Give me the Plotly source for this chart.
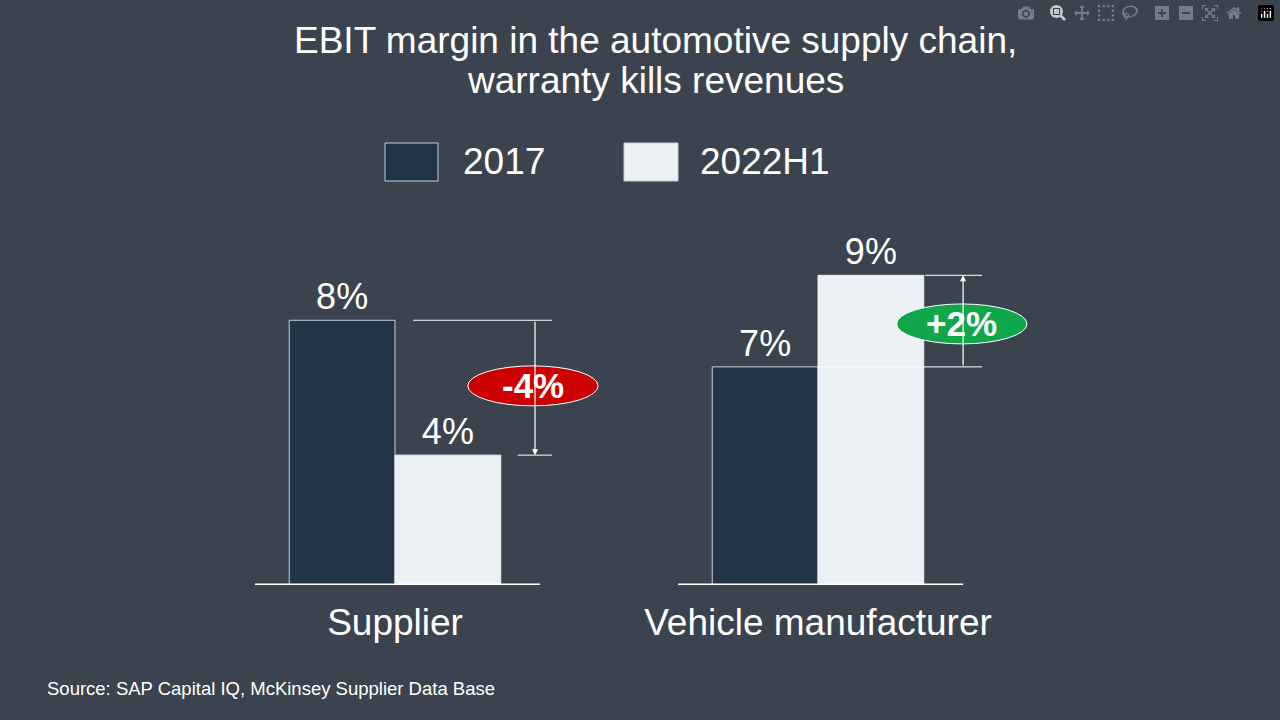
import plotly.graph_objects as go

# data
categories = ["Supplier", "Vehicle manufacturer"]
series_names = ["2017", "2022H1"]
margin_2017 = [7.95, 6.55]
margin_2022 = [3.9, 9.3]
labels_2017 = ["8%", "7%"]
labels_2022 = ["4%", "9%"]
changes = ["-4%", "+2%"]

dark = "#243447"
light = "#ebf1f4"
white = "#ffffff"
font = "Liberation Sans, Arial, sans-serif"

fig = go.Figure()
fig.add_trace(go.Bar(x=categories, y=margin_2017, name=series_names[0],
                     marker=dict(color=dark, line=dict(color="#c8d0d8", width=1)),
                     text=labels_2017, textposition="outside",
                     textfont=dict(size=36, color=white), cliponaxis=False))
fig.add_trace(go.Bar(x=categories, y=margin_2022, name=series_names[1],
                     marker=dict(color=light, line=dict(color=light, width=1)),
                     text=labels_2022, textposition="outside",
                     textfont=dict(size=36, color=white), cliponaxis=False))

shapes = []
annotations = []

# baselines under each group
for i in range(2):
    shapes.append(dict(type="line", xref="x", yref="y", x0=i - 0.331, x1=i + 0.343,
                       y0=0, y1=0, line=dict(color=white, width=3)))

# supplier: change indicator
s_top, s_bot = margin_2017[0], margin_2022[0]
shapes.append(dict(type="line", xref="x", yref="y", x0=0.043, x1=0.371, y0=s_top, y1=s_top,
                   line=dict(color=white, width=1)))
shapes.append(dict(type="line", xref="x", yref="y", x0=0.29, x1=0.371, y0=s_bot, y1=s_bot,
                   line=dict(color=white, width=1)))
annotations.append(dict(xref="x", yref="y", axref="x", ayref="y", x=0.331, y=s_bot,
                        ax=0.331, ay=s_top, text="", showarrow=True, arrowhead=2,
                        arrowsize=1, arrowwidth=1.2, arrowcolor=white))
# vehicle manufacturer: change indicator
v_bot, v_top = margin_2017[1], margin_2022[1]
shapes.append(dict(type="line", xref="x", yref="y", x0=1.253, x1=1.388, y0=v_top, y1=v_top,
                   line=dict(color=white, width=1)))
shapes.append(dict(type="line", xref="x", yref="y", x0=1.005, x1=1.388, y0=v_bot, y1=v_bot,
                   line=dict(color=white, width=1)))
annotations.append(dict(xref="x", yref="y", axref="x", ayref="y", x=1.343, y=v_top,
                        ax=1.343, ay=v_bot, text="", showarrow=True, arrowhead=2,
                        arrowsize=1, arrowwidth=1.2, arrowcolor=white))

# ovals with the change
for cx, cy, txt, col in [(0.326, 5.98, changes[0], "#cc0000"), (1.34, 7.84, changes[1], "#10a64a")]:
    shapes.append(dict(type="circle", xref="x", yref="y", x0=cx - 0.154, x1=cx + 0.154,
                       y0=cy - 0.6, y1=cy + 0.6, fillcolor=col, line=dict(color=white, width=1)))
    annotations.append(dict(xref="x", yref="y", x=cx, y=cy, text="<b>%s</b>" % txt,
                            showarrow=False, font=dict(size=35, color=white, family=font)))

# manual legend
for x0, x1, col, name, tx in [(385, 438, dark, series_names[0], 461),
                              (624, 678, light, series_names[1], 698)]:
    shapes.append(dict(type="rect", xref="paper", yref="paper", x0=x0 / 1280, x1=x1 / 1280,
                       y0=1 - 181 / 720, y1=1 - 143 / 720, fillcolor=col,
                       line=dict(color="#c8d0d8", width=1)))
    annotations.append(dict(xref="paper", yref="paper", x=tx / 1280, y=1 - 162 / 720,
                            xanchor="left", yanchor="middle", text=name, showarrow=False,
                            font=dict(size=37, color=white, family=font)))

for line_text, ly in [("EBIT margin in the automotive supply chain,", 40),
                      ("warranty kills revenues", 80)]:
    annotations.append(dict(xref="paper", yref="paper", x=655 / 1280, y=1 - ly / 720,
                            yanchor="middle", text=line_text, showarrow=False,
                            font=dict(size=37, color=white, family=font)))
annotations.append(dict(xref="paper", yref="paper", x=45 / 1280, y=1 - 688 / 720,
                        xanchor="left", yanchor="middle", showarrow=False,
                        text="Source: SAP Capital IQ, McKinsey Supplier Data Base",
                        font=dict(size=18.5, color=white, family=font)))

fig.update_layout(
    width=1280, height=720,
    margin=dict(l=0, r=0, t=0, b=0),
    paper_bgcolor="#3b444e", plot_bgcolor="rgba(0,0,0,0)",
    barmode="group", bargap=0.5, bargroupgap=0,
    showlegend=False,
    font=dict(family=font, color=white),
    shapes=shapes, annotations=annotations,
    xaxis=dict(domain=[183.5 / 1280, 1029.5 / 1280], range=[-0.5, 1.5],
               showgrid=False, zeroline=False, showline=False, ticks="",
               tickfont=dict(size=37, color=white), ticklabelstandoff=12),
    yaxis=dict(domain=[135 / 720, 468 / 720], range=[0, 10], visible=False),
)

fig.write_html("out.html", post_script="document.body.style.margin='0';")
